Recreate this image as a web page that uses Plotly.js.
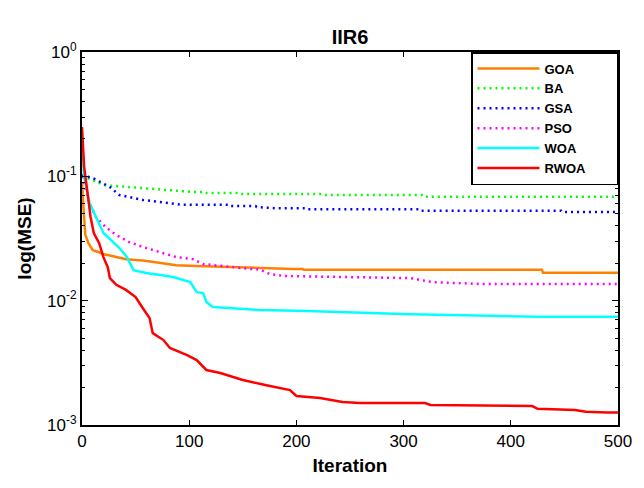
<!DOCTYPE html>
<html>
<head>
<meta charset="utf-8">
<script src="https://cdn.plot.ly/plotly-3.0.1.min.js"></script>
<style>html,body{margin:0;padding:0;background:#fff;}#chart{width:644px;height:488px;}</style>
</head>
<body>
<div id="chart"></div>
<script>
// Series names
const seriesNames = ["GOA", "BA", "GSA", "PSO", "WOA", "RWOA"];

// GOA
const goaIter = [0, 3, 6, 10, 16, 20, 25, 41, 57, 72, 88, 106, 135, 166, 197, 206, 207, 337, 413, 429, 430, 500];
const goaVal  = [0.088, 0.034, 0.029, 0.0255, 0.0245, 0.0236, 0.0232, 0.0215, 0.021, 0.0201, 0.0193, 0.019, 0.0186, 0.0183, 0.018, 0.018, 0.0177, 0.0177, 0.0177, 0.0177, 0.0168, 0.0168];

// BA
const baIter = [0, 10, 20, 42, 72, 104, 112, 113, 146, 147, 224, 225, 317, 318, 500];
const baVal  = [0.1, 0.0934, 0.085, 0.082, 0.078, 0.0748, 0.0748, 0.0734, 0.0734, 0.0721, 0.0721, 0.0707, 0.0707, 0.0686, 0.0686];

// GSA
const gsaIter = [0, 10, 26, 35, 57, 82, 94, 137, 138, 162, 163, 182, 210, 211, 315, 316, 447, 448, 500];
const gsaVal  = [0.102, 0.0969, 0.082, 0.0707, 0.0645, 0.061, 0.059, 0.059, 0.0577, 0.0577, 0.0566, 0.0553, 0.0553, 0.0543, 0.0543, 0.0529, 0.0529, 0.0516, 0.0516];

// PSO
const psoIter = [0, 7, 13, 22, 32, 44, 57, 72, 88, 104, 113, 157, 166, 175, 188, 243, 306, 327, 350, 374, 500];
const psoVal  = [0.1, 0.061, 0.0471, 0.0391, 0.0337, 0.0296, 0.027, 0.0246, 0.0224, 0.0215, 0.0197, 0.018, 0.0178, 0.0164, 0.0158, 0.0155, 0.0152, 0.0141, 0.0139, 0.0136, 0.0136];

// WOA
const woaIter = [0, 2, 7, 13, 20, 35, 42, 48, 60, 73, 85, 101, 107, 113, 116, 122, 147, 166, 210, 250, 272, 306, 381, 427, 500];
const woaVal  = [0.185, 0.0987, 0.061, 0.0471, 0.035, 0.0265, 0.0224, 0.0176, 0.0167, 0.0161, 0.0155, 0.0141, 0.0117, 0.0115, 0.00975, 0.0089, 0.00856, 0.0084, 0.00824, 0.00805, 0.0079, 0.00776, 0.00756, 0.00742, 0.00742];

// RWOA
const rwoaIter = [0, 2, 6, 8, 11, 16, 20, 24, 26, 32, 41, 50, 56, 63, 66, 76, 82, 98, 107, 116, 129, 150, 172, 194, 200, 222, 243, 259, 320, 325, 420, 425, 460, 470, 490, 500];
const rwoaVal  = [0.249, 0.119, 0.0645, 0.0471, 0.035, 0.029, 0.0224, 0.0186, 0.0152, 0.0134, 0.0122, 0.0107, 0.0089, 0.00724, 0.00548, 0.00482, 0.00416, 0.00365, 0.00333, 0.00277, 0.00262, 0.0023, 0.00209, 0.00191, 0.00171, 0.00165, 0.00153, 0.0015, 0.0015, 0.00145, 0.00142, 0.00135, 0.00132, 0.00128, 0.00126, 0.00126];

// Axis ticks
const yTickVals = [0.001, 0.01, 0.1, 1];
const yTickText = ["10<sup>-3</sup>", "10<sup>-2</sup>", "10<sup>-1</sup>", "10<sup>0</sup>"];
const xTickVals = [0, 100, 200, 300, 400, 500];

const FONT = "Liberation Sans, Arial, sans-serif";
const DOT = "2px,4px";
const PAD = "\u00a0\u00a0\u00a0\u00a0\u00a0\u00a0\u00a0";

const traces = [
  {x: goaIter, y: goaVal, name: seriesNames[0], line: {color: "#ff8000", width: 2.5}},
  {x: baIter, y: baVal, name: seriesNames[1], line: {color: "#00ff00", width: 2.5, dash: DOT}},
  {x: gsaIter, y: gsaVal, name: seriesNames[2], line: {color: "#0000ff", width: 2.5, dash: DOT}},
  {x: psoIter, y: psoVal, name: seriesNames[3], line: {color: "#ff00ff", width: 2.5, dash: DOT}},
  {x: woaIter, y: woaVal, name: seriesNames[4], line: {color: "#00ffff", width: 2.5}},
  {x: rwoaIter, y: rwoaVal, name: seriesNames[5], line: {color: "#ff0000", width: 2.5}}
].map(t => Object.assign({type: "scatter", mode: "lines"}, t, {name: t.name + PAD}));

const layout = {
  width: 644, height: 488,
  margin: {l: 82, r: 26, t: 52, b: 63},
  paper_bgcolor: "#fff", plot_bgcolor: "#fff",
  font: {family: FONT, color: "#000", size: 17},
  title: {text: "<b>IIR6</b>", font: {family: FONT, size: 20, color: "#000"}, x: 0.5, xref: "paper", y: 1, yref: "paper", yanchor: "bottom", pad: {b: 8}},
  xaxis: {
    range: [0, 500], tickmode: "array", tickvals: xTickVals,
    ticks: "inside", ticklen: 5, tickwidth: 1, tickcolor: "#000",
    showline: true, linecolor: "#000", linewidth: 2, mirror: "ticks",
    showgrid: false, zeroline: false,
    tickfont: {family: FONT, size: 17, color: "#000"},
    title: {text: "<b>Iteration</b>", font: {family: FONT, size: 19, color: "#000"}, standoff: 8}
  },
  yaxis: {
    type: "log", range: [-3, 0], tickmode: "array", tickvals: yTickVals, ticktext: yTickText,
    ticks: "inside", ticklen: 6, tickwidth: 1, tickcolor: "#000",
    minor: {ticks: "inside", ticklen: 3, tickwidth: 1, tickcolor: "#000", dtick: "D1", showgrid: false},
    showline: true, linecolor: "#000", linewidth: 2, mirror: "ticks",
    showgrid: false, zeroline: false,
    tickfont: {family: FONT, size: 17, color: "#000"},
    title: {text: "<b>log(MSE)</b>", font: {family: FONT, size: 19, color: "#000"}, standoff: 10}
  },
  legend: {
    x: 1, xanchor: "right", y: 1, yanchor: "top",
    bgcolor: "#fff", bordercolor: "#000", borderwidth: 1.5,
    font: {family: FONT, size: 13, color: "#000", weight: "bold"},
    itemwidth: 62, tracegroupgap: 0
  },
  showlegend: true
};

Plotly.newPlot("chart", traces, layout, {displayModeBar: false, staticPlot: true});
</script>
</body>
</html>
